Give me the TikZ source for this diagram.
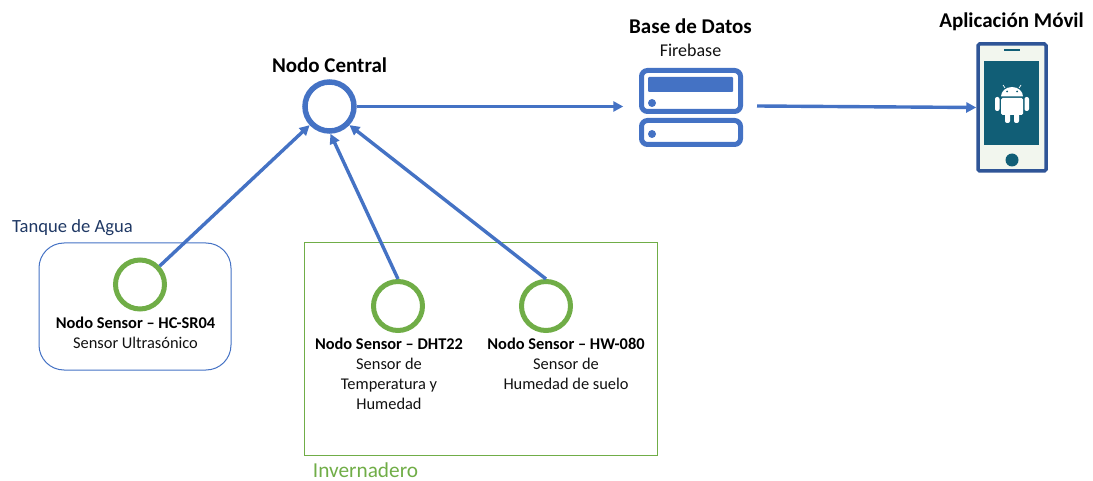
\documentclass[tikz,border=0pt]{standalone}
\usepackage{fontspec}
\setmainfont{Carlito}
\usetikzlibrary{arrows.meta}
\definecolor{myblue}{HTML}{4472C4}
\definecolor{mygreen}{HTML}{70AD47}
\definecolor{navy}{HTML}{1F3864}
\definecolor{teal2}{HTML}{115E76}
\definecolor{phonebg}{HTML}{F2F6EE}
\definecolor{phoneedge}{HTML}{2F5597}
\definecolor{txt}{HTML}{111111}
\tikzset{
  central/.style={circle,draw=myblue,line width=5.5pt,minimum size=49pt,inner sep=0pt},
  sensor/.style={circle,draw=mygreen,line width=5pt,minimum size=49pt,inner sep=0pt},
  link/.style={draw=myblue,line width=3.4pt,-{Triangle[length=10pt,width=10pt]}},
  title/.style={font=\fontsize{21}{23}\selectfont\bfseries,text=black,inner sep=0pt},
  sname/.style={font=\fontsize{16.4}{18}\selectfont\bfseries,text=black,inner sep=0pt},
  sdesc/.style={font=\fontsize{16.4}{20}\selectfont,text=txt,align=center,inner sep=0pt},
  dbbox/.style={draw=myblue,line width=5pt,rounded corners=6pt},
}
\begin{document}
\begin{tikzpicture}[x=1pt,y=-1pt]
\useasboundingbox (0,0) rectangle (1093,481);
% group frames
\draw[myblue,line width=1pt,rounded corners=25pt] (39,243) rectangle (231,370);
\draw[mygreen,line width=1pt] (304,243) rectangle (657,455);
\node[font=\fontsize{18.6}{20}\selectfont,text=navy,inner sep=0pt] (tanque) at (72.5,228) {Tanque de Agua};
\node[font=\fontsize{21.3}{22}\selectfont,text=mygreen,inner sep=0pt] (inver) at (365.5,470.5) {Invernadero};
% nodes
\node[central] (c) at (329.5,106.5) {};
\node[sensor] (s1) at (140,284.5) {};
\node[sensor] (s2) at (398,306) {};
\node[sensor] (s3) at (546,306) {};
\node[title] (tc) at (329.5,65) {Nodo Central};
\node[title] (tb) at (690.5,26) {Base de Datos};
\node[font=\fontsize{18}{20}\selectfont,text=txt,inner sep=0pt] (tf) at (690.5,50) {Firebase};
\node[title] (ta) at (1011.5,22) {Aplicación Móvil};
\node[sname] (n1) at (135.5,323) {Nodo Sensor – HC-SR04};
\node[sdesc] (d1) at (135.5,343) {Sensor Ultrasónico};
\node[sname] (n2) at (389,344) {Nodo Sensor – DHT22};
\node[sdesc,anchor=north] (d2) at (389,357.5) {Sensor de\\Temperatura y\\Humedad};
\node[sname] (n3) at (566,344) {Nodo Sensor – HW-080};
\node[sdesc,anchor=north] (d3) at (566,357.5) {Sensor de\\Humedad de suelo};
% database icon
\node[inner sep=0pt,minimum width=105pt,minimum height=79pt] (db) at (691,108) {};
\draw[dbbox] (641.5,70.5) rectangle (740.5,111.5);
\draw[dbbox] (641.5,120.5) rectangle (740.5,144.5);
\fill[myblue,rounded corners=1pt] (648,77) rectangle (733,92);
\fill[myblue] (652,103) circle (4pt) (652,134) circle (4pt);
% phone icon
\node[draw=phoneedge,fill=phonebg,line width=3.5pt,rounded corners=1.5pt,minimum width=68pt,minimum height=127pt,inner sep=0pt] (ph) at (1012,107.5) {};
\fill[teal2] (984,61) rectangle (1039,145);
\fill[teal2] (1012,160) circle (6.5pt);
\draw[teal2,line width=1.6pt] (1004,50) -- (1020,50);
% android
\fill[white] (1001,96.5) arc[start angle=180,end angle=360,x radius=11,y radius=9.5] -- cycle;
\fill[white,rounded corners=1.5pt] (1001,98) rectangle (1023,115);
\fill[white,rounded corners=2pt] (995,97) rectangle (999.5,111);
\fill[white,rounded corners=2pt] (1024.5,97) rectangle (1029,111);
\fill[white,rounded corners=2pt] (1005,110) rectangle (1010,123);
\fill[white,rounded corners=2pt] (1014,110) rectangle (1019,123);
\draw[white,line width=.7pt] (1005,88) -- (1003,85) (1019,88) -- (1021,85);
\fill[teal2] (1007,91.5) circle (1pt) (1017,91.5) circle (1pt);
% connectors
\draw[link] (s1) -- (c);
\draw[link] (s2.north) -- (c.-88);
\draw[link] (s3.north) -- (c.-43);
\draw[link,shorten >=15pt] (c.east) -- (db.west |- c.east);
\coordinate (dbout) at (757,106);
\draw[link] (dbout) -- (ph.west);
\end{tikzpicture}
\end{document}
